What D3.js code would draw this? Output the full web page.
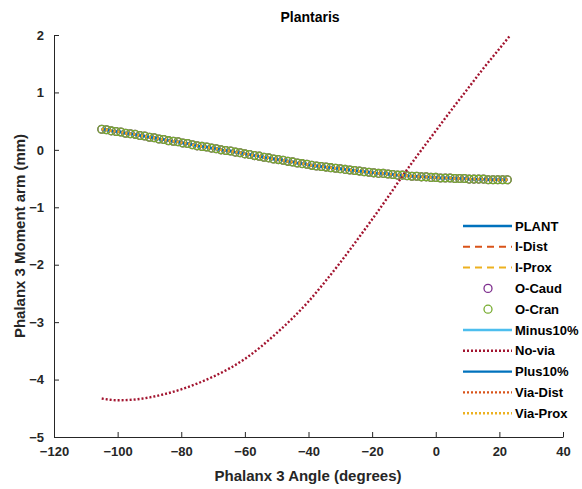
<!DOCTYPE html>
<html><head><meta charset="utf-8">
<script src="https://cdn.jsdelivr.net/npm/d3@7"></script>
<style>body{margin:0;background:#fff}svg{display:block}text{font-family:"Liberation Sans",Arial,sans-serif;font-weight:bold}</style>
</head><body>
<script>
// ---- data ----
const angles = [-105,-103.5,-102,-100.5,-99,-97.5,-96,-94.5,-93,-91.5,-90,-88.5,-87,-85.5,-84,-82.5,-81,-79.5,-78,-76.5,-75,-73.5,-72,-70.5,-69,-67.5,-66,-64.5,-63,-61.5,-60,-58.5,-57,-55.5,-54,-52.5,-51,-49.5,-48,-46.5,-45,-43.5,-42,-40.5,-39,-37.5,-36,-34.5,-33,-31.5,-30,-28.5,-27,-25.5,-24,-22.5,-21,-19.5,-18,-16.5,-15,-13.5,-12,-10.5,-9,-7.5,-6,-4.5,-3,-1.5,0,1.5,3,4.5,6,7.5,9,10.5,12,13.5,15,16.5,18,19.5,21,22.5];
const plant = [0.36,0.35,0.33,0.32,0.31,0.29,0.28,0.27,0.25,0.24,0.22,0.21,0.19,0.18,0.16,0.15,0.14,0.12,0.11,0.09,0.07,0.06,0.05,0.03,0.02,0.00,-0.01,-0.02,-0.04,-0.05,-0.07,-0.08,-0.10,-0.11,-0.13,-0.14,-0.16,-0.17,-0.18,-0.20,-0.21,-0.23,-0.24,-0.25,-0.27,-0.28,-0.29,-0.30,-0.31,-0.32,-0.33,-0.34,-0.35,-0.36,-0.37,-0.38,-0.39,-0.40,-0.41,-0.41,-0.42,-0.43,-0.44,-0.44,-0.45,-0.46,-0.46,-0.47,-0.47,-0.48,-0.48,-0.49,-0.49,-0.49,-0.50,-0.50,-0.50,-0.51,-0.51,-0.51,-0.51,-0.52,-0.52,-0.52,-0.52,-0.52];
const iDist = plant, iProx = plant, oCaud = plant, oCran = plant, minus10 = plant, plus10 = plant, viaDist = plant, viaProx = plant;
const noViaAngles = [-105,-100,-95,-90,-85,-80,-75,-70,-65,-60,-55,-50,-45,-40,-35,-30,-25,-20,-15,-10,-5,0,5,10,15,20,23.5];
const noVia = [-4.33,-4.36,-4.35,-4.31,-4.25,-4.17,-4.07,-3.95,-3.81,-3.64,-3.43,-3.19,-2.93,-2.64,-2.31,-1.96,-1.59,-1.21,-0.82,-0.42,-0.04,0.33,0.70,1.06,1.42,1.76,2.0];
const xTicks = [-120,-100,-80,-60,-40,-20,0,20,40];
const yTicks = [-5,-4,-3,-2,-1,0,1,2];
const seriesNames = ["PLANT","I-Dist","I-Prox","O-Caud","O-Cran","Minus10%","No-via","Plus10%","Via-Dist","Via-Prox"];
const colors = ["#0072BD","#D95319","#EDB120","#7E2F8E","#77AC30","#4DBEEE","#A2142F","#0072BD","#D95319","#EDB120"];

// ---- chart ----
const W = 582, H = 489;
const svg = d3.select("body").append("svg").attr("width", W).attr("height", H);
const x = d3.scaleLinear().domain([-120, 40]).range([54, 563]);
const y = d3.scaleLinear().domain([-5, 2]).range([437, 35]);

const styles = [
  {type:"line", dash:null, w:2.4},
  {type:"line", dash:"7,5", w:2},
  {type:"line", dash:"7,5", w:2},
  {type:"circle"},
  {type:"circle"},
  {type:"line", dash:null, w:2.4},
  {type:"line", dash:"2,2", w:2.4},
  {type:"line", dash:null, w:2.4},
  {type:"line", dash:"2,2", w:2.4},
  {type:"line", dash:"2,2", w:2.4}
];
const seriesData = [
  [angles, plant],[angles, iDist],[angles, iProx],[angles, oCaud],[angles, oCran],
  [angles, minus10],[noViaAngles, noVia],[angles, plus10],[angles, viaDist],[angles, viaProx]
];

// axes
const gx = svg.append("g").attr("transform", `translate(0,${y(-5)})`)
  .call(d3.axisBottom(x).tickValues(xTicks).tickSizeInner(-5).tickSizeOuter(0).tickPadding(10).tickFormat(d3.format("d")));
const gy = svg.append("g").attr("transform", `translate(${x(-120)},0)`)
  .call(d3.axisLeft(y).tickValues(yTicks).tickSizeInner(-5).tickSizeOuter(0).tickPadding(10).tickFormat(d3.format("d")));
[gx, gy].forEach(g => {
  g.select(".domain").attr("stroke", "#262626").attr("stroke-width", 1);
  g.selectAll(".tick line").attr("stroke", "#262626");
  g.selectAll(".tick text").attr("fill", "#262626").attr("font-size", 13).attr("font-family", "Liberation Sans, Arial, sans-serif").attr("font-weight", "bold");
});

// series
const line = d3.line().curve(d3.curveMonotoneX);
seriesData.forEach((s, i) => {
  const pts = s[0].map((a, j) => [x(a), y(s[1][j])]);
  const st = styles[i];
  if (st.type === "line") {
    svg.append("path").attr("d", line(pts)).attr("fill", "none")
      .attr("stroke", colors[i]).attr("stroke-width", st.w)
      .attr("stroke-dasharray", st.dash);
  } else {
    svg.append("g").selectAll("circle").data(pts).join("circle")
      .attr("cx", d => d[0]).attr("cy", d => d[1]).attr("r", 3.9)
      .attr("fill", "none").attr("stroke", colors[i]).attr("stroke-width", 1.3);
  }
});

// legend
const lg = svg.append("g");
seriesNames.forEach((n, i) => {
  const yy = 226 + i * 20.8;
  const st = styles[i];
  if (st.type === "line") {
    lg.append("line").attr("x1", 463).attr("x2", 512).attr("y1", yy).attr("y2", yy)
      .attr("stroke", colors[i]).attr("stroke-width", st.w).attr("stroke-dasharray", st.dash);
  } else {
    lg.append("circle").attr("cx", 488).attr("cy", yy).attr("r", 4)
      .attr("fill", "none").attr("stroke", colors[i]).attr("stroke-width", 1.3);
  }
  lg.append("text").attr("x", 515).attr("y", yy).attr("dy", "0.35em")
    .attr("font-size", 13).attr("fill", "#000").text(n);
});

// title & labels
svg.append("text").attr("x", 310).attr("y", 22).attr("text-anchor", "middle")
  .attr("font-size", 14).attr("fill", "#000").text("Plantaris");
svg.append("text").attr("x", 308).attr("y", 481).attr("text-anchor", "middle")
  .attr("font-size", 15).attr("fill", "#262626").text("Phalanx 3 Angle (degrees)");
svg.append("text").attr("transform", `translate(25,${y(-1.5)}) rotate(-90)`).attr("text-anchor", "middle")
  .attr("font-size", 15).attr("fill", "#262626").text("Phalanx 3 Moment arm (mm)");
</script>
</body></html>
